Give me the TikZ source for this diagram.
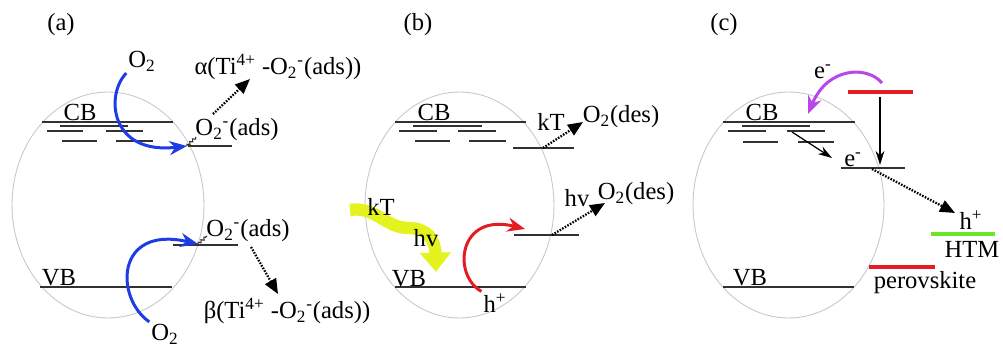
\documentclass[tikz,border=0pt]{standalone}
\usepackage{fontspec}
\setmainfont{Liberation Serif}
\usepackage{tikz}
\usetikzlibrary{arrows.meta, positioning, decorations.pathmorphing}
\definecolor{shellgray}{RGB}{200,200,200}
\definecolor{bandgray}{RGB}{50,50,50}
\definecolor{oxblue}{RGB}{30,60,230}
\definecolor{holered}{RGB}{228,28,36}
\definecolor{elecpurple}{RGB}{185,70,235}
\definecolor{heatyellow}{RGB}{228,242,30}
\definecolor{htmgreen}{RGB}{110,230,40}

\begin{document}
\begin{tikzpicture}[x=0.02cm, y=-0.02cm,
    font=\fontsize{14}{16}\selectfont,
    shell/.style={draw=shellgray, line width=0.5pt},
    band/.style={draw=bandgray, line width=0.6pt},
    bar/.style={draw=#1, line width=2.4pt},
    lbl/.style={inner sep=1pt},
    dotarrow/.style={line width=1.3pt, dash pattern=on 0.9pt off 0.8pt,
                     -{Triangle[length=8.5pt,width=7pt]}},
    curvearrow/.style={draw=#1, line width=1.7pt, -{Stealth[length=10pt,width=8pt]}},
    thinarrow/.style={draw=black, line width=0.7pt, -{Stealth[length=8pt,width=5pt]}},
    wiggle/.style={draw=bandgray, line width=0.6pt, decorate,
                   decoration={snake, amplitude=0.7pt, segment length=2.2pt}},
    heat/.style={draw=heatyellow, line width=7pt, -{Triangle[length=11pt,width=17pt]}}
]
    \useasboundingbox (0,0) rectangle (1003,348);

    % (a)
    \node[lbl] (tagA) at (61,25) {(a)};
    \draw[shell] (108,205) ellipse [x radius=1.92cm, y radius=2.26cm];
    \draw[band] (42,122) -- (173,122);
    \node[lbl] (cbA) at (80,112) {CB};
    \foreach \xa/\xb/\yy in {60/128/126, 47/83/131, 106/143/131, 62/97/141, 116/153/141}
        \draw[band] (\xa,\yy) -- (\xb,\yy);
    \draw[band] (188,146) -- (232,146);
    \draw[band] (173,245) -- (238,245);
    \draw[band] (40,287) -- (172,287);
    \node[lbl] (vbA) at (59,278) {VB};
    \node[lbl] (o2top) at (142,61) {O\textsubscript{2}};
    \node[lbl] (o2bot) at (165,334) {O\textsubscript{2}};
    \node[lbl] (adsCB) at (237,130) {O\textsubscript{2}\textsuperscript{-}(ads)};
    \node[lbl] (adsVB) at (248,231) {O\textsubscript{2}\textsuperscript{-}(ads)};
    \node[lbl] (alphaA) at (278,67) {α(Ti\textsuperscript{4+} -O\textsubscript{2}\textsuperscript{-}(ads))};
    \node[lbl] (betaA) at (287,311) {β(Ti\textsuperscript{4+} -O\textsubscript{2}\textsuperscript{-}(ads))};
    \coordinate (siteCB) at (187,146);
    \coordinate (tieCB) at (196,137);
    \coordinate (siteVB) at (198,244);
    \coordinate (tieVB) at (207,236);
    \coordinate (fromCB) at (213,114);
    \coordinate (toAlpha) at (250,79);
    \coordinate (fromVB) at (251,247);
    \coordinate (toBeta) at (278,294);
    \draw[curvearrow=oxblue] (o2top.south west) .. controls (105,95) and (110,155) .. (siteCB);
    \draw[curvearrow=oxblue] (o2bot.north west) .. controls (115,298) and (115,225) .. (siteVB);
    \draw[wiggle] (siteCB) -- (tieCB);
    \draw[wiggle] (siteVB) -- (tieVB);
    \draw[dotarrow] (fromCB) -- (toAlpha);
    \draw[dotarrow] (fromVB) -- (toBeta);

    % (b)
    \node[lbl] (tagB) at (418,25) {(b)};
    \draw[shell] (459.5,205) ellipse [x radius=1.89cm, y radius=2.26cm];
    \draw[band] (395,122) -- (526,122);
    \node[lbl] (cbB) at (434,112) {CB};
    \foreach \xa/\xb/\yy in {413/482/126, 399/437/131, 458/496/131, 415/450/141, 469/506/141}
        \draw[band] (\xa,\yy) -- (\xb,\yy);
    \draw[band] (513,148) -- (574,148);
    \draw[band] (514,235) -- (579,235);
    \draw[band] (395,287) -- (526,287);
    \node[lbl] (vbB) at (409,279) {VB};
    \coordinate (heatStart) at (350,210);
    \coordinate (heatEnd) at (436,272);
    \draw[heat] (heatStart) .. controls (375,206) and (386,228) .. (408,228)
        .. controls (428,228) and (435,240) .. (heatEnd);
    \node[lbl] (kTheat) at (381,207) {kT};
    \node[lbl] (hvheat) at (426,238) {hv};
    \node[lbl] (kTdes) at (551,122) {kT};
    \node[lbl] (desUp) at (621,117) {O\textsubscript{2}(des)};
    \node[lbl] (hvdes) at (577,198) {hv};
    \node[lbl] (desDn) at (636,194) {O\textsubscript{2}(des)};
    \node[lbl] (hplusB) at (495,303) {h\textsuperscript{+}};
    \coordinate (siteUpB) at (543,148);
    \coordinate (toDesUp) at (583,122);
    \coordinate (siteDnB) at (552,235);
    \coordinate (toDesDn) at (605,203);
    \coordinate (holeEnd) at (525,229);
    \draw[dotarrow] (siteUpB) -- (toDesUp);
    \draw[dotarrow] (siteDnB) -- (toDesDn);
    \draw[curvearrow=holered] (hplusB.north west) .. controls (452,275) and (458,212) .. (holeEnd);

    % (c)
    \node[lbl] (tagC) at (724,25) {(c)};
    \draw[shell] (788.5,205) ellipse [x radius=1.91cm, y radius=2.26cm];
    \draw[band] (723,122) -- (855,122);
    \node[lbl] (cbC) at (762,112) {CB};
    \foreach \xa/\xb/\yy in {742/810/126, 728/766/131, 787/825/131, 743/778/142, 798/834/142}
        \draw[band] (\xa,\yy) -- (\xb,\yy);
    \draw[band] (841,168) -- (905,168);
    \draw[band] (723,287) -- (854,287);
    \node[lbl] (vbC) at (750,278) {VB};
    \draw[bar=holered] (848,92) -- (913,92);
    \draw[bar=htmgreen] (931,234) -- (995,234);
    \draw[bar=holered] (869,267) -- (935,267);
    \node[lbl] (eTop) at (823,72) {e\textsuperscript{-}};
    \node[lbl] (eLow) at (853,160) {e\textsuperscript{-}};
    \node[lbl] (hplusC) at (971,220) {h\textsuperscript{+}};
    \node[lbl] (htm) at (972,249) {HTM};
    \node[lbl] (perov) at (925,283) {perovskite};
    \coordinate (trapC) at (792,132);
    \coordinate (trapEnd) at (832,158);
    \coordinate (barFrom) at (880,97);
    \coordinate (barTo) at (880,165);
    \coordinate (injFrom) at (882,83);
    \coordinate (injTo) at (808,114);
    \coordinate (siteC) at (872,169);
    \coordinate (toHole) at (955,213);
    \draw[thinarrow] (trapC) -- (trapEnd);
    \draw[thinarrow] (barFrom) -- (barTo);
    \draw[curvearrow=elecpurple] (injFrom) .. controls (868,66) and (828,66) .. (injTo);
    \draw[dotarrow] (siteC) -- (toHole);
\end{tikzpicture}
\end{document}
